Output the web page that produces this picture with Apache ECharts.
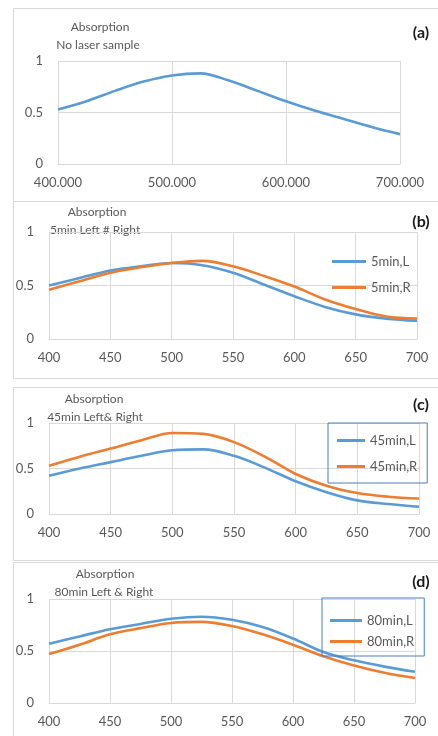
<!DOCTYPE html>
<html>
<head>
<meta charset="utf-8">
<script src="https://cdn.jsdelivr.net/npm/echarts@6/dist/echarts.min.js"></script>
<style>
  html, body { margin: 0; padding: 0; background: #fff; }
  #chart { width: 438px; height: 736px; }
</style>
</head>
<body>
<div id="chart"></div>
<script>
// wavelength (nm) / absorption readings for each panel
var wave = [400, 425, 450, 475, 500, 525, 550, 575, 600, 625, 650, 675, 700];
var noLaser = [0.53, 0.61, 0.71, 0.80, 0.86, 0.88, 0.81, 0.71, 0.61, 0.52, 0.44, 0.36, 0.29];
var min5L = [0.50, 0.57, 0.64, 0.68, 0.71, 0.69, 0.62, 0.51, 0.40, 0.30, 0.23, 0.19, 0.17];
var min5R = [0.46, 0.54, 0.62, 0.67, 0.71, 0.73, 0.68, 0.59, 0.49, 0.37, 0.28, 0.21, 0.19];
var min45L = [0.42, 0.50, 0.57, 0.64, 0.70, 0.71, 0.64, 0.51, 0.36, 0.24, 0.15, 0.11, 0.08];
var min45R = [0.53, 0.63, 0.72, 0.81, 0.89, 0.88, 0.79, 0.63, 0.44, 0.31, 0.23, 0.19, 0.17];
var min80L = [0.57, 0.64, 0.71, 0.76, 0.81, 0.83, 0.80, 0.73, 0.62, 0.49, 0.41, 0.35, 0.30];
var min80R = [0.47, 0.56, 0.66, 0.72, 0.77, 0.78, 0.74, 0.66, 0.56, 0.45, 0.36, 0.29, 0.24];

var BLUE = '#5b9bd5';
var ORANGE = '#ed7d31';
var GRID = '#d9d9d9';
var TXT = '#595959';
var FONT = 'Lato';

function pairs(xs, ys) {
  return xs.map(function (x, i) { return [x, ys[i]]; });
}

var grids = [
  { left: 58, top: 61, width: 342, height: 103 },
  { left: 49, top: 232, width: 368, height: 107 },
  { left: 49, top: 423, width: 370, height: 91 },
  { left: 49, top: 599, width: 366, height: 104 }
];

function xAxis(i, step, fmt) {
  return {
    type: 'value', gridIndex: i, min: 400, max: 700, interval: step,
    axisLine: { show: true, lineStyle: { color: GRID } },
    axisTick: { show: false },
    splitLine: { show: true, lineStyle: { color: GRID } },
    axisLabel: { color: TXT, fontSize: 13, fontFamily: FONT, margin: 12, formatter: fmt }
  };
}
function yAxis(i) {
  return {
    type: 'value', gridIndex: i, min: 0, max: 1, interval: 0.5,
    axisLine: { show: false },
    axisTick: { show: false },
    splitLine: { show: true, lineStyle: { color: GRID } },
    axisLabel: { color: TXT, fontSize: 13, fontFamily: FONT, margin: 15 }
  };
}
function line(name, i, ys, color) {
  return {
    name: name, type: 'line', xAxisIndex: i, yAxisIndex: i,
    data: pairs(wave, ys), smooth: 0.35, showSymbol: false,
    lineStyle: { color: color, width: 2.6 }, itemStyle: { color: color }
  };
}
// text placed by its anchor point (centre unless told otherwise)
function txt(x, y, s, opts) {
  return {
    type: 'text', x: x, y: y,
    style: Object.assign({ text: s, fill: TXT, font: '12px ' + FONT, align: 'center', verticalAlign: 'middle' }, opts || {})
  };
}
function tag(y, s) {
  return txt(421, y, s, { fill: '#1a1a1a', font: 'bold 16px ' + FONT });
}
function frame(y, h) {
  return { type: 'rect', shape: { x: 13.5, y: y + 0.5, width: 440, height: h }, style: { fill: 'none', stroke: GRID, lineWidth: 1 }, z: -1 };
}
function legend(names, left, top, gap, w, pad, box) {
  return {
    data: names, orient: 'vertical', left: left, top: top,
    icon: 'rect', itemWidth: w, itemHeight: 3, itemGap: gap,
    padding: pad,
    borderColor: box ? '#4a7ebb' : 'transparent', borderWidth: box ? 1 : 0,
    textStyle: { color: TXT, fontSize: 13, fontFamily: FONT }
  };
}

var chart = echarts.init(document.getElementById('chart'));
chart.setOption({
  animation: false,
  backgroundColor: '#fff',
  grid: grids,
  xAxis: [
    xAxis(0, 100, function (v) { return v.toFixed(3); }),
    xAxis(1, 50), xAxis(2, 50), xAxis(3, 50)
  ],
  yAxis: [yAxis(0), yAxis(1), yAxis(2), yAxis(3)],
  legend: [
    legend(['5min,L', '5min,R'], 332, 255, 13, 34, 0, false),
    legend(['45min,L', '45min,R'], 328, 423, 13, 28, [11, 10, 10, 9], true),
    legend(['80min,L', '80min,R'], 322, 598, 8, 32, [16, 10, 8, 8], true)
  ],
  series: [
    line('No laser sample', 0, noLaser, BLUE),
    line('5min,L', 1, min5L, BLUE),
    line('5min,R', 1, min5R, ORANGE),
    line('45min,L', 2, min45L, BLUE),
    line('45min,R', 2, min45R, ORANGE),
    line('80min,L', 3, min80L, BLUE),
    line('80min,R', 3, min80R, ORANGE)
  ],
  graphic: [
    frame(8, 193), frame(201, 177), frame(387, 173), frame(562, 180),
    txt(100, 27, 'Absorption'), txt(98, 45, 'No laser sample'),
    txt(97, 212, 'Absorption'), txt(50, 230, '5min Left # Right', { align: 'left' }),
    txt(94, 399, 'Absorption'), txt(95, 417, '45min Left& Right'),
    txt(105, 574, 'Absorption'), txt(104, 592, '80min Left & Right'),
    tag(33, '(a)'), tag(222, '(b)'), tag(405, '(c)'), tag(582, '(d)')
  ]
});
</script>
</body>
</html>
